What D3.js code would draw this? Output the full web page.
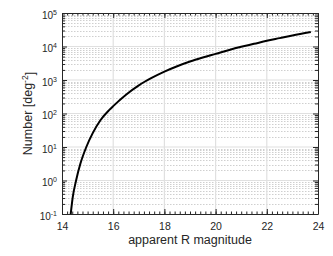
<!DOCTYPE html>
<meta charset="utf-8">
<style>
body { margin: 0; background: #fff; }
text { font-family: "Liberation Sans", Arial, sans-serif; fill: #262626; }
.axis path, .axis line { stroke: #262626; }
.grid-major { stroke: #e0e0e0; stroke-width: 1.2; }
.grid-minor { stroke: #cfcfcf; stroke-width: 1; stroke-dasharray: 1.5,1.5; }
</style>
<svg width="333" height="256"></svg>
<script src="https://d3js.org/d3.v7.min.js"></script>
<script>

// galaxy counts
var magnitudes = [14.34, 14.42, 14.55, 14.72, 14.95, 15.2, 15.5, 15.84, 16.0, 16.5, 17.0, 17.5,
                  18.0, 18.5, 19.0, 19.5, 20.0, 20.5, 21.0, 21.5, 22.0, 22.5, 23.0, 23.72];
var counts = [0.1, 0.32, 1, 3.2, 10, 26, 63, 126, 166, 363, 692, 1150,
              1780, 2570, 3550, 4680, 6030, 7760, 9770, 12000, 14800, 17800, 21400, 26900];

var xTicks = [14, 16, 18, 20, 22, 24];
var yTicks = [1e-1, 1e0, 1e1, 1e2, 1e3, 1e4, 1e5];

var svg = d3.select("svg");

var plotLeft = 62, plotRight = 318, plotTop = 13, plotBottom = 214;

var x = d3.scaleLinear().domain([14, 24]).range([plotLeft, plotRight]);
var y = d3.scaleLog().domain([0.1, 1e5]).range([plotBottom, plotTop]);

var xMinor = d3.range(14, 24.001, 0.2).map(function(d) { return +d.toFixed(1); });
var yMinor = [];
yTicks.slice(0, -1).forEach(function(t) {
  for (var k = 2; k < 10; k++) yMinor.push(t * k);
});

// grid
svg.append("g").selectAll("line")
    .data(yMinor)
  .enter().append("line")
    .attr("class", "grid-minor")
    .attr("x1", plotLeft).attr("x2", plotRight)
    .attr("y1", function(d) { return Math.round(y(d)) + 0.5; })
    .attr("y2", function(d) { return Math.round(y(d)) + 0.5; });

svg.append("g").selectAll("line")
    .data(yTicks.slice(1, -1))
  .enter().append("line")
    .attr("class", "grid-major")
    .attr("x1", plotLeft).attr("x2", plotRight)
    .attr("y1", function(d) { return y(d); })
    .attr("y2", function(d) { return y(d); });

svg.append("g").selectAll("line")
    .data(xTicks.slice(1, -1))
  .enter().append("line")
    .attr("class", "grid-major")
    .attr("x1", function(d) { return x(d); })
    .attr("x2", function(d) { return x(d); })
    .attr("y1", plotTop).attr("y2", plotBottom);

// curve
svg.append("clipPath").attr("id", "clip")
  .append("rect")
    .attr("x", plotLeft).attr("y", plotTop)
    .attr("width", plotRight - plotLeft).attr("height", plotBottom - plotTop);

var line = d3.line()
    .x(function(d, i) { return x(magnitudes[i]); })
    .y(function(d) { return y(d); })
    .curve(d3.curveMonotoneX);

svg.append("path")
    .datum(counts)
    .attr("clip-path", "url(#clip)")
    .attr("fill", "none")
    .attr("stroke", "#000")
    .attr("stroke-width", 2)
    .attr("d", line);

// axes, ticks pointing inwards on all four sides
function noLabel() { return ""; }

svg.append("g").attr("class", "axis")
    .attr("transform", "translate(0," + plotBottom + ")")
    .call(d3.axisBottom(x).tickValues(xMinor).tickSize(-2.5).tickFormat(noLabel))
    .call(function(g) { g.select(".domain").remove(); });

svg.append("g").attr("class", "axis")
    .attr("transform", "translate(0," + plotTop + ")")
    .call(d3.axisTop(x).tickValues(xMinor).tickSize(-2.5).tickFormat(noLabel))
    .call(function(g) { g.select(".domain").remove(); });

svg.append("g").attr("class", "axis")
    .attr("transform", "translate(0," + plotTop + ")")
    .call(d3.axisTop(x).tickValues(xTicks).tickSizeInner(-5).tickSizeOuter(0).tickFormat(noLabel));

svg.append("g").attr("class", "axis")
    .attr("transform", "translate(0," + plotBottom + ")")
    .call(d3.axisBottom(x).tickValues(xTicks).tickSizeInner(-5).tickSizeOuter(0).tickPadding(9))
    .call(function(g) { g.selectAll("text").style("font-size", "10.5px"); });

svg.append("g").attr("class", "axis")
    .attr("transform", "translate(" + plotLeft + ",0)")
    .call(d3.axisLeft(y).tickValues(yMinor).tickSize(-3).tickFormat(noLabel))
    .call(function(g) { g.select(".domain").remove(); });

svg.append("g").attr("class", "axis")
    .attr("transform", "translate(" + plotRight + ",0)")
    .call(d3.axisRight(y).tickValues(yMinor).tickSize(-3).tickFormat(noLabel))
    .call(function(g) { g.select(".domain").remove(); });

svg.append("g").attr("class", "axis")
    .attr("transform", "translate(" + plotRight + ",0)")
    .call(d3.axisRight(y).tickValues(yTicks).tickSizeInner(-5).tickSizeOuter(0).tickFormat(noLabel));

var yAxis = svg.append("g").attr("class", "axis")
    .attr("transform", "translate(" + plotLeft + ",0)")
    .call(d3.axisLeft(y).tickValues(yTicks).tickSizeInner(-5).tickSizeOuter(0).tickPadding(5).tickFormat(noLabel));

yAxis.selectAll(".tick text").each(function(d) {
  var t = d3.select(this).attr("dy", "0.5em").style("font-size", "10px");
  t.append("tspan").text("10");
  t.append("tspan")
      .attr("dy", "-0.55em")
      .style("font-size", "7px")
      .text(Math.round(Math.log10(d)));
});

// axis titles
svg.append("text")
    .attr("x", (plotLeft + plotRight) / 2)
    .attr("y", 244)
    .attr("text-anchor", "middle")
    .style("font-size", "12.5px")
    .text("apparent R magnitude");

var ylab = svg.append("text")
    .attr("transform", "translate(32," + ((plotTop + plotBottom) / 2) + ") rotate(-90)")
    .attr("text-anchor", "middle")
    .style("font-size", "12.5px");
ylab.append("tspan").text("Number [deg");
ylab.append("tspan").attr("dy", "-0.5em").style("font-size", "8.5px").text("-2");
ylab.append("tspan").attr("dy", "0.5em").text("]");

</script>
